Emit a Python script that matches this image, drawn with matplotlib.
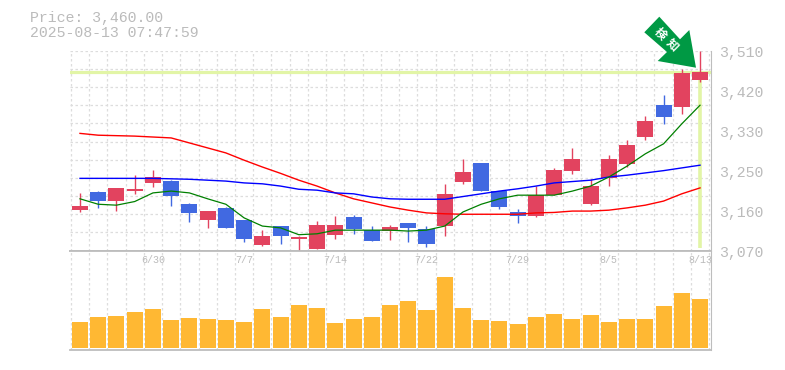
import matplotlib
matplotlib.use("Agg")
import matplotlib.pyplot as plt
from matplotlib.patches import Polygon

# candles, in yen
opens = [3159, 3199, 3179, 3201, 3219, 3223, 3172, 3137, 3164, 3137, 3082, 3124, 3096, 3073, 3104, 3144, 3115, 3113,
         3131, 3118, 3124, 3221, 3263, 3201, 3155, 3146, 3192, 3245, 3173, 3230, 3261, 3320, 3390, 3386, 3445]
closes = [3168, 3179, 3208, 3206, 3232, 3190, 3153, 3157, 3120, 3096, 3102, 3102, 3100, 3126, 3126, 3118, 3091, 3122,
          3120, 3085, 3195, 3243, 3201, 3166, 3146, 3192, 3247, 3272, 3212, 3272, 3302, 3355, 3364, 3461, 3463]
highs = [3197, 3201, 3208, 3236, 3247, 3225, 3175, 3157, 3166, 3137, 3115, 3124, 3102, 3135, 3146, 3148, 3124, 3126,
         3131, 3124, 3216, 3272, 3263, 3201, 3162, 3212, 3252, 3296, 3227, 3280, 3313, 3366, 3412, 3470, 3509]
lows = [3155, 3164, 3157, 3195, 3210, 3168, 3133, 3120, 3120, 3089, 3080, 3085, 3069, 3073, 3096, 3107, 3091, 3093,
        3089, 3078, 3102, 3217, 3201, 3162, 3131, 3144, 3192, 3239, 3170, 3212, 3254, 3313, 3349, 3371, 3441]

ma_short = [3184, 3172, 3170, 3178, 3197, 3201, 3197, 3184, 3172, 3142, 3124, 3120, 3105, 3107, 3115, 3115, 3115, 3115,
            3113, 3115, 3124, 3155, 3172, 3184, 3192, 3192, 3192, 3201, 3212, 3232, 3256, 3283, 3305, 3349, 3390]
ma_mid = [3229, 3229, 3229, 3229, 3229, 3228, 3227, 3225, 3223, 3219, 3217, 3212, 3205, 3203, 3197, 3195, 3188, 3184,
          3183, 3183, 3183, 3189, 3195, 3201, 3206, 3212, 3219, 3222, 3225, 3232, 3236, 3241, 3246, 3252, 3258]
ma_long = [3328, 3324, 3323, 3322, 3320, 3318, 3307, 3296, 3285, 3269, 3254, 3240, 3225, 3212, 3197, 3184, 3175, 3166,
           3159, 3153, 3151, 3150, 3150, 3150, 3150, 3153, 3154, 3157, 3157, 3159, 3164, 3170, 3179, 3195, 3208]

volumes = [78, 93, 96, 108, 117, 84, 90, 87, 84, 78, 117, 93, 129, 120, 75, 87, 93, 129,
           141, 114, 213, 120, 84, 81, 72, 93, 102, 87, 99, 78, 87, 87, 126, 165, 147]

date_pos = [4, 9, 14, 19, 24, 29, 34]
date_labels = ["6/30", "7/7", "7/14", "7/22", "7/29", "8/5", "8/13"]
price_ticks = [3510, 3422, 3334, 3246, 3158, 3070]
price_labels = ["3,510", "3,420", "3,330", "3,250", "3,160", "3,070"]
last_price = 3463

UP = "#e2435f"
DOWN = "#4169e1"
GRID = "#dddddd"
TEXT = "#bbbbbb"
FRAME = "#bdbdbd"
MARK = "#e2f5a6"
W, H = 785, 370


def px_box(x0, y0, x1, y1):
    return [x0 / W, 1 - y1 / H, (x1 - x0) / W, (y1 - y0) / H]


fig = plt.figure(figsize=(W / 100, H / 100), dpi=100)
ax = fig.add_axes(px_box(70, 50.7, 710.6, 250.6))
vol = fig.add_axes(px_box(70, 250.6, 710.6, 350))

n = len(closes)
grid_x = [i - 0.5 for i in range(n + 1)]
for a in (ax, vol):
    a.set_xlim(-0.548, 34.58)
    a.set_xticks(grid_x)
    a.grid(True, axis="x", color=GRID, lw=0.9, ls=(0, (2, 2)))
    a.set_axisbelow(True)
    a.tick_params(length=0, labelbottom=False)
    for s in a.spines.values():
        s.set_visible(False)
    a.spines["right"].set_visible(True)
    a.spines["right"].set_color(FRAME)
    a.spines["bottom"].set_visible(True)
    a.spines["bottom"].set_color(FRAME)
    a.spines["bottom"].set_linewidth(1.3)

# main panel
ax.set_ylim(3070, 3510)
ax.set_yticks([3070 + 40 * i for i in range(12)])
ax.grid(True, axis="y", color=GRID, lw=0.9, ls=(0, (2, 2)))
ax.set_yticklabels([])

ax.axhline(last_price, color=MARK, lw=2.3, zorder=1.5)
ax.plot([n - 1, n - 1], [last_price, 3076], color=MARK, lw=2.6, zorder=1.5, solid_capstyle="butt")

for i in range(n):
    c = UP if closes[i] >= opens[i] else DOWN
    ax.vlines(i, lows[i], highs[i], color=c, lw=1, zorder=3)
    ax.bar(i, abs(closes[i] - opens[i]), bottom=min(opens[i], closes[i]), width=0.88, color=c, lw=0, zorder=3)

ax.plot(range(n), ma_long, color="#ff0000", lw=1, zorder=4)
ax.plot(range(n), ma_mid, color="#0000ff", lw=1, zorder=4)
ax.plot(range(n), ma_short, color="#008000", lw=0.9, zorder=4)

for p, lab in zip(price_ticks, price_labels):
    ax.annotate(lab, xy=(1, p), xycoords=("axes fraction", "data"), xytext=(6, -2), textcoords="offset points",
                va="center", ha="left", family="Liberation Mono", fontsize=10.7, color=TEXT)

# volume panel
vol.set_ylim(-6, 292)
vol.set_yticks([])
vol.spines["top"].set_visible(True)
vol.spines["top"].set_color(FRAME)
vol.spines["top"].set_linewidth(1.3)
vol.bar(range(n), volumes, width=0.88, color="#ffb833", lw=0, zorder=3)
for i, lab in zip(date_pos, date_labels):
    vol.annotate(lab, xy=(i, 1), xycoords=("data", "axes fraction"), xytext=(0, -7), textcoords="offset points",
                 va="center", ha="center", family="Liberation Mono", fontsize=7.2, color=TEXT, zorder=2)

fig.text(30 / W, 1 - 18 / H, "Price: 3,460.00", family="Liberation Mono", fontsize=10.7, color=TEXT, va="center")
fig.text(30 / W, 1 - 33 / H, "2025-08-13 07:47:59", family="Liberation Mono", fontsize=10.7, color=TEXT, va="center")

# green badge arrow over the last candle
badge = [(659.3, 16.7), (680, 39.3), (689.3, 30), (696, 67.7), (657.7, 61), (667, 52), (644.3, 32.3)]
fig.add_artist(Polygon([(x / W, 1 - y / H) for x, y in badge], closed=True, transform=fig.transFigure,
                       color="#009944", lw=0, zorder=10))
for ch, x, y in [("検", 660.5, 34), ("知", 672.5, 44.5)]:
    fig.text(x / W, 1 - y / H, ch, family=["Noto Sans CJK JP", "DejaVu Sans"], fontsize=8.5, weight="bold",
             color="white", rotation=-45, rotation_mode="anchor", ha="center", va="center", zorder=11)

fig.savefig("out.png", dpi=100)
